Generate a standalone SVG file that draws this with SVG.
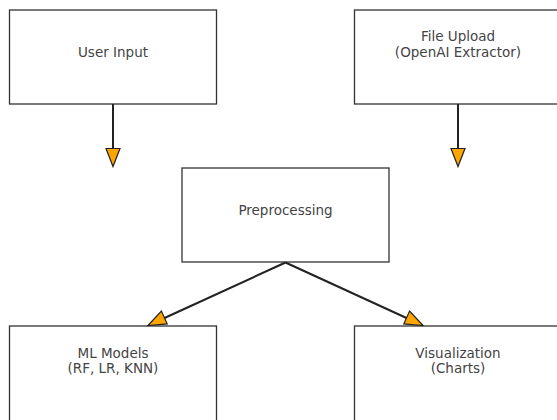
<svg xmlns="http://www.w3.org/2000/svg" width="557" height="420" viewBox="0 0 557 420">
  <style>
    .box { fill: #ffffff; stroke: #333333; stroke-width: 1.3; }
    .label { font-family: "DejaVu Sans", sans-serif; font-size: 13.5px; fill: #444444; text-anchor: middle; }
    .edge { stroke: #222222; stroke-width: 2; fill: none; }
    .head { fill: #ffa500; stroke: #222222; stroke-width: 1.2; stroke-linejoin: miter; }
  </style>
  <rect width="557" height="420" fill="#ffffff"/>

  <g id="user-input">
    <rect class="box" x="9.5" y="10" width="207" height="94"/>
    <text class="label" x="113" y="56.5">User Input</text>
  </g>

  <g id="file-upload">
    <rect class="box" x="354.5" y="10" width="207" height="94"/>
    <text class="label" x="458" y="41">File Upload</text>
    <text class="label" x="458" y="56.5">(OpenAI Extractor)</text>
  </g>

  <g id="preprocessing">
    <rect class="box" x="182" y="168" width="207" height="94"/>
    <text class="label" x="285.5" y="214.5">Preprocessing</text>
  </g>

  <g id="ml-models">
    <rect class="box" x="9.5" y="326" width="207" height="110"/>
    <text class="label" x="113" y="357.5">ML Models</text>
    <text class="label" x="113" y="373">(RF, LR, KNN)</text>
  </g>

  <g id="visualization">
    <rect class="box" x="354.5" y="326" width="207" height="110"/>
    <text class="label" x="458" y="357.5">Visualization</text>
    <text class="label" x="458" y="373">(Charts)</text>
  </g>

  <g id="connectors">
    <line class="edge" x1="113" y1="104" x2="113" y2="149"/>
    <polygon class="head" points="106,148.5 120,148.5 113,166.5"/>

    <line class="edge" x1="458" y1="104" x2="458" y2="149"/>
    <polygon class="head" points="451,148.5 465,148.5 458,166.5"/>

    <line class="edge" x1="285.5" y1="262.5" x2="164.5" y2="318"/>
    <polygon class="head" points="148,325.5 161.4,311.1 167.2,323.9"/>

    <line class="edge" x1="285.5" y1="262.5" x2="406.5" y2="318"/>
    <polygon class="head" points="423,325.5 409.6,311.1 403.8,323.9"/>
  </g>
</svg>
